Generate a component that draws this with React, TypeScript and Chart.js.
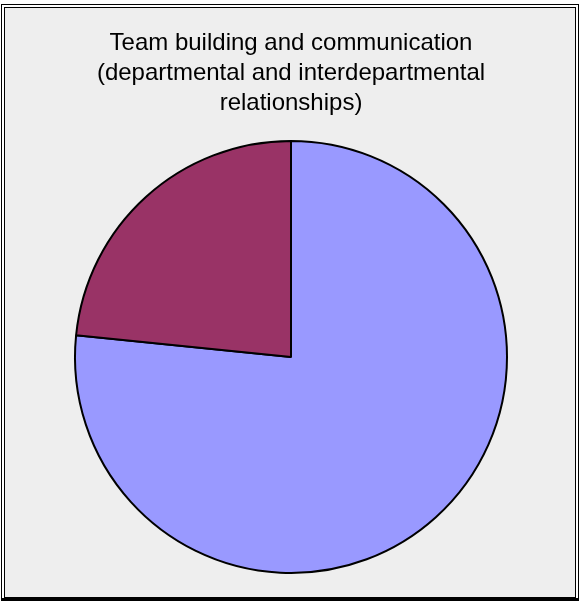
import React, { useEffect, useRef } from "react";
import { Chart, registerables } from "chart.js";

Chart.register(...registerables);

const categories: string[] = ["Slice 1", "Slice 2"];
const values: number[] = [76.6, 23.4];
const colors: string[] = ["#9999FF", "#993366"];
const titleLines: string[] = [
  "Team building and communication",
  "(departmental and interdepartmental",
  "relationships)",
];

export default function App() {
  const ref = useRef<HTMLCanvasElement | null>(null);

  useEffect(() => {
    if (!ref.current) return;
    const chart = new Chart(ref.current, {
      type: "pie",
      data: {
        labels: categories,
        datasets: [
          {
            data: values,
            backgroundColor: colors,
            borderColor: "#000000",
            borderWidth: 2,
            hoverOffset: 0,
            offset: 0,
          },
        ],
      },
      options: {
        animation: false,
        responsive: false,
        events: [],
        layout: { padding: { left: 0, right: 2, top: 0, bottom: 31 } },
        plugins: {
          legend: { display: false },
          tooltip: { enabled: false },
          title: {
            display: true,
            text: titleLines,
            color: "#000000",
            font: { family: "'Liberation Sans', Arial, sans-serif", size: 24, weight: "normal", lineHeight: 1.25 },
            padding: { top: 28, bottom: 22 },
          },
        },
      },
    });
    return () => chart.destroy();
  }, []);

  return (
    <>
      <div
        style={{
          position: "fixed",
          left: 1,
          top: 4,
          width: 576,
          height: 593,
          border: "1px solid #000",
          borderBottomWidth: 3,
          background: "#ffffff",
          boxSizing: "content-box",
        }}
      />
      <div
        style={{
          position: "fixed",
          left: 4,
          top: 7,
          width: 570,
          height: 589,
          border: "1px solid #000",
          background: "#EEEEEE",
          boxSizing: "content-box",
        }}
      />
      <canvas
        ref={ref}
        width={584}
        height={605}
        style={{ position: "fixed", left: 0, top: 0, width: 584, height: 605 }}
      />
    </>
  );
}
